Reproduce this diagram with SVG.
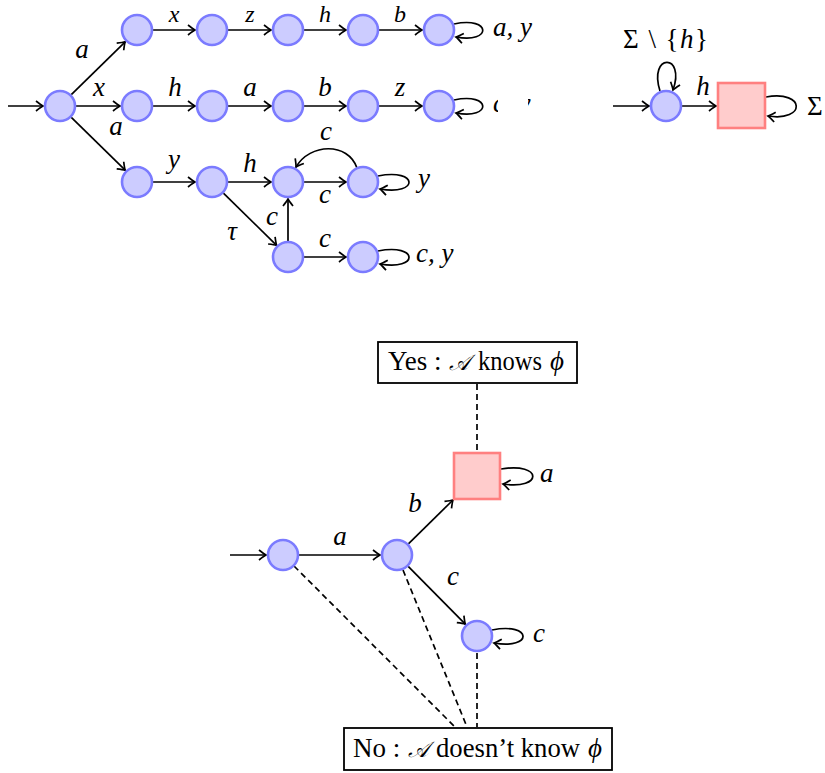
<svg xmlns="http://www.w3.org/2000/svg" width="825" height="773" viewBox="0 0 825 773">
<style>
.st{fill:#ccccff;stroke:#7b7bff;stroke-width:2.6}
.acc{fill:#ffcccc;stroke:#ff8080;stroke-width:2.6}
.e{fill:none;stroke:#000;stroke-width:1.7}
.d{fill:none;stroke:#000;stroke-width:1.7;stroke-dasharray:6,4}
.m{font-family:"Liberation Serif","DejaVu Serif",serif;font-style:italic;font-size:27px;fill:#000}
.t{font-size:24px}
.cal{font-size:22px}
.r{font-family:"Liberation Serif","DejaVu Serif",serif;font-size:27px;fill:#000}
.box{fill:#fff;stroke:#000;stroke-width:1.8}
</style>
<defs>
<marker id="arr" viewBox="-10 -7 12 14" refX="0" refY="0" markerWidth="12" markerHeight="14" markerUnits="userSpaceOnUse" orient="auto">
<path d="M-7,-5 Q-2,-1 0,0 Q-2,1 -7,5" fill="none" stroke="#000" stroke-width="1.7"/>
</marker>
</defs>
<rect width="825" height="773" fill="#fff"/>
<g id="connectors">
<line class="e" x1="8" y1="106" x2="43" y2="106" marker-end="url(#arr)"/>
<line class="e" x1="71.3" y1="94.7" x2="125.2" y2="41.8" marker-end="url(#arr)"/>
<line class="e" x1="76" y1="106" x2="120" y2="106" marker-end="url(#arr)"/>
<line class="e" x1="71.3" y1="117.3" x2="125.2" y2="170.2" marker-end="url(#arr)"/>
<line class="e" x1="153" y1="30" x2="195" y2="30" marker-end="url(#arr)"/>
<line class="e" x1="228" y1="30" x2="271" y2="30" marker-end="url(#arr)"/>
<line class="e" x1="304" y1="30" x2="346" y2="30" marker-end="url(#arr)"/>
<line class="e" x1="379" y1="30" x2="422" y2="30" marker-end="url(#arr)"/>
<path class="e" d="M454,24 C492,16 492,44 456,37" marker-end="url(#arr)"/>
<line class="e" x1="153" y1="106" x2="195" y2="106" marker-end="url(#arr)"/>
<line class="e" x1="228" y1="106" x2="271" y2="106" marker-end="url(#arr)"/>
<line class="e" x1="304" y1="106" x2="346" y2="106" marker-end="url(#arr)"/>
<line class="e" x1="379" y1="106" x2="422" y2="106" marker-end="url(#arr)"/>
<path class="e" d="M454,100 C492,92 492,120 456,113" marker-end="url(#arr)"/>
<line class="e" x1="153" y1="182" x2="195" y2="182" marker-end="url(#arr)"/>
<line class="e" x1="228" y1="182" x2="271" y2="182" marker-end="url(#arr)"/>
<line class="e" x1="304" y1="182" x2="346" y2="182" marker-end="url(#arr)"/>
<path class="e" d="M357,168 C348,142 310,143 296,167" marker-end="url(#arr)"/>
<path class="e" d="M378,176 C419,168 419,196 380,189" marker-end="url(#arr)"/>
<line class="e" x1="223.4" y1="193.2" x2="276.6" y2="245.3" marker-end="url(#arr)"/>
<line class="e" x1="288" y1="241" x2="288" y2="199" marker-end="url(#arr)"/>
<line class="e" x1="304" y1="257" x2="346" y2="257" marker-end="url(#arr)"/>
<path class="e" d="M378,251 C419,243 419,271 380,264" marker-end="url(#arr)"/>
<line class="e" x1="613" y1="106" x2="649" y2="106" marker-end="url(#arr)"/>
<path class="e" d="M660,91 C648,53 686,53 673,90" marker-end="url(#arr)"/>
<line class="e" x1="682" y1="106" x2="716" y2="106" marker-end="url(#arr)"/>
<path class="e" d="M766,97 C806,90 806,122 768,116" marker-end="url(#arr)"/>
<line class="e" x1="230" y1="555" x2="266" y2="555" marker-end="url(#arr)"/>
<line class="e" x1="299" y1="555" x2="380" y2="555" marker-end="url(#arr)"/>
<line class="e" x1="408.4" y1="543.8" x2="453" y2="500" marker-end="url(#arr)"/>
<line class="e" x1="408.2" y1="566.4" x2="465.3" y2="624.1" marker-end="url(#arr)"/>
<path class="e" d="M501,469 C543,462 543,490 503,484" marker-end="url(#arr)"/>
<path class="e" d="M492,630 C533,622 533,650 494,643" marker-end="url(#arr)"/>
<line class="d" x1="477" y1="384" x2="477" y2="452"/>
<line class="d" x1="294" y1="566" x2="455" y2="727"/>
<line class="d" x1="403" y1="570" x2="467" y2="727"/>
<line class="d" x1="477" y1="653" x2="477" y2="727"/>
</g>
<g id="labels">
<text class="m" x="82" y="58" text-anchor="middle">a</text>
<text class="m" x="99" y="96" text-anchor="middle">x</text>
<text class="m" x="116" y="135" text-anchor="middle">a</text>
<text class="m t" x="174" y="21.5" text-anchor="middle">x</text>
<text class="m t" x="250" y="21.5" text-anchor="middle">z</text>
<text class="m t" x="325" y="21.5" text-anchor="middle">h</text>
<text class="m t" x="400" y="21.5" text-anchor="middle">b</text>
<text class="m" x="493" y="36">a, y</text>
<text class="m" x="175" y="96" text-anchor="middle">h</text>
<text class="m" x="250" y="96" text-anchor="middle">a</text>
<text class="m" x="325" y="96" text-anchor="middle">b</text>
<text class="m" x="400" y="96" text-anchor="middle">z</text>
<text class="m" x="493" y="112">c, y</text>
<rect x="498" y="86" width="30" height="36" fill="#fff"/>
<text class="m" x="174" y="168" text-anchor="middle">y</text>
<text class="m" x="250" y="172" text-anchor="middle">h</text>
<text class="m" x="326" y="140" text-anchor="middle">c</text>
<text class="m" x="325" y="203" text-anchor="middle">c</text>
<text class="m" x="272" y="225" text-anchor="middle">c</text>
<text class="m" x="232" y="240" text-anchor="middle">τ</text>
<text class="m" x="325" y="247" text-anchor="middle">c</text>
<text class="m" x="418" y="187">y</text>
<text class="m" x="416" y="262">c, y</text>
<text class="r" x="623" y="48" textLength="85">Σ \ {<tspan font-style="italic">h</tspan>}</text>
<text class="m" x="703" y="95" text-anchor="middle">h</text>
<text class="r" x="807" y="115">Σ</text>
<text class="m" x="340" y="545" text-anchor="middle">a</text>
<text class="m" x="415" y="512" text-anchor="middle">b</text>
<text class="m" x="453" y="585" text-anchor="middle">c</text>
<text class="m" x="540" y="482">a</text>
<text class="m" x="533" y="642">c</text>
</g>
<g id="n_top0"><circle class="st" cx="60" cy="106" r="15"/></g>
<g id="n_r1a"><circle class="st" cx="137" cy="30" r="15"/></g>
<g id="n_r1b"><circle class="st" cx="212" cy="30" r="15"/></g>
<g id="n_r1c"><circle class="st" cx="288" cy="30" r="15"/></g>
<g id="n_r1d"><circle class="st" cx="363" cy="30" r="15"/></g>
<g id="n_r1e"><circle class="st" cx="439" cy="30" r="15"/></g>
<g id="n_r2a"><circle class="st" cx="137" cy="106" r="15"/></g>
<g id="n_r2b"><circle class="st" cx="212" cy="106" r="15"/></g>
<g id="n_r2c"><circle class="st" cx="288" cy="106" r="15"/></g>
<g id="n_r2d"><circle class="st" cx="363" cy="106" r="15"/></g>
<g id="n_r2e"><circle class="st" cx="439" cy="106" r="15"/></g>
<g id="n_r3a"><circle class="st" cx="137" cy="182" r="15"/></g>
<g id="n_r3b"><circle class="st" cx="212" cy="182" r="15"/></g>
<g id="n_r3c"><circle class="st" cx="288" cy="182" r="15"/></g>
<g id="n_r3d"><circle class="st" cx="363" cy="182" r="15"/></g>
<g id="n_r4a"><circle class="st" cx="288" cy="257" r="15"/></g>
<g id="n_r4b"><circle class="st" cx="363" cy="257" r="15"/></g>
<g id="n_p0"><circle class="st" cx="666" cy="106" r="15"/></g>
<g id="n_p1"><rect class="acc" x="718" y="83" width="47" height="45"/></g>
<g id="n_b0"><circle class="st" cx="283" cy="555" r="15"/></g>
<g id="n_b1"><circle class="st" cx="397" cy="555" r="15"/></g>
<g id="n_b2"><rect class="acc" x="454" y="453" width="46" height="46"/></g>
<g id="n_b3"><circle class="st" cx="477" cy="636" r="15"/></g>
<g id="yes">
<rect class="box" x="378" y="342" width="199" height="41"/>
<text class="r" x="388" y="370">Yes :</text>
<text class="m cal" x="449" y="370">𝒜</text>
<text class="r" x="478" y="370" textLength="64" lengthAdjust="spacingAndGlyphs">knows</text>
<text class="m" x="550" y="370">ϕ</text>
</g>
<g id="no">
<rect class="box" x="344" y="728" width="268" height="42"/>
<text class="r" x="353" y="757">No :</text>
<text class="m cal" x="408" y="757">𝒜</text>
<text class="r" x="436" y="757" textLength="144" lengthAdjust="spacingAndGlyphs">doesn’t know</text>
<text class="m" x="588" y="757">ϕ</text>
</g>
</svg>
